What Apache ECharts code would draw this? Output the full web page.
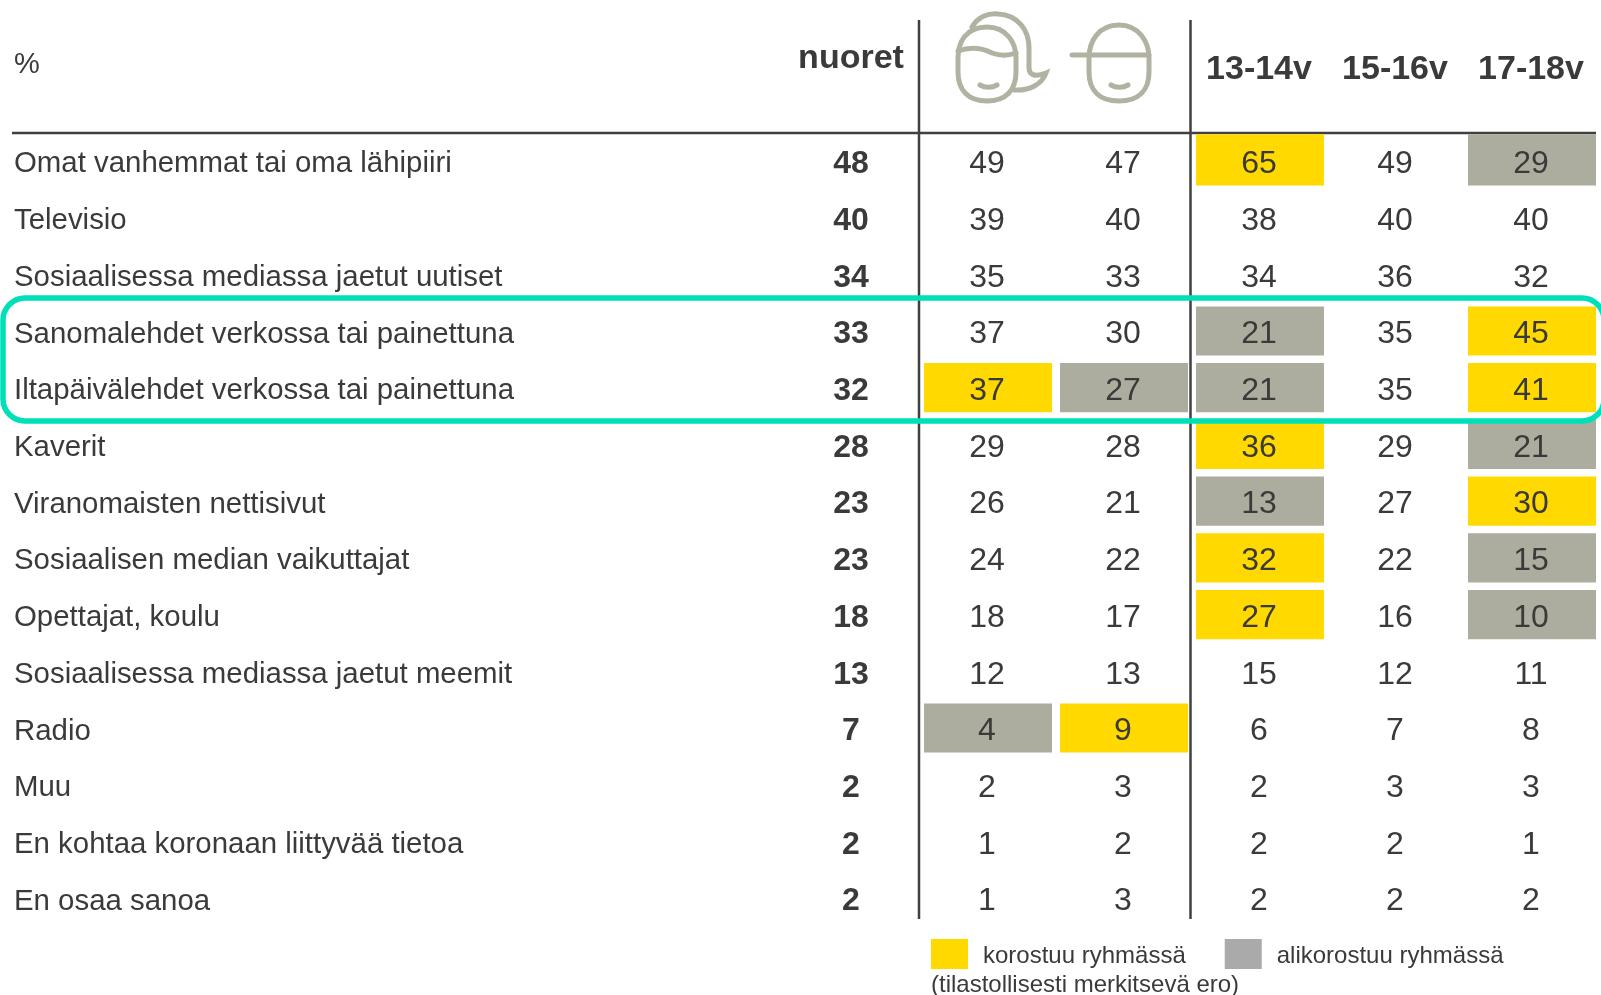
<!DOCTYPE html>
<html>
<head>
<meta charset="utf-8">
<style>
html,body{margin:0;padding:0;background:#fff}
#chart1{width:1601px;height:995px}
</style>
<script src="https://cdn.jsdelivr.net/npm/echarts@6/dist/echarts.min.js"></script>
</head>
<body>
<div id="chart1"></div>
<script>
const columns = ["nuoret", "", "", "13-14v", "15-16v", "17-18v"];
const rows = [
  "Omat vanhemmat tai oma lähipiiri", "Televisio", "Sosiaalisessa mediassa jaetut uutiset",
  "Sanomalehdet verkossa tai painettuna", "Iltapäivälehdet verkossa tai painettuna", "Kaverit",
  "Viranomaisten nettisivut", "Sosiaalisen median vaikuttajat", "Opettajat, koulu",
  "Sosiaalisessa mediassa jaetut meemit", "Radio", "Muu",
  "En kohtaa koronaan liittyvää tietoa", "En osaa sanoa"
];
const nuoret = [48, 40, 34, 33, 32, 28, 23, 23, 18, 13, 7, 2, 2, 2];
const tytot = [49, 39, 35, 37, 37, 29, 26, 24, 18, 12, 4, 2, 1, 1];
const pojat = [47, 40, 33, 30, 27, 28, 21, 22, 17, 13, 9, 3, 2, 3];
const age1314 = [65, 38, 34, 21, 21, 36, 13, 32, 27, 15, 6, 2, 2, 2];
const age1516 = [49, 40, 36, 35, 35, 29, 27, 22, 16, 12, 7, 3, 2, 2];
const age1718 = [29, 40, 32, 45, 41, 21, 30, 15, 10, 11, 8, 3, 1, 2];

// [column, row] of the highlighted cells
const korostuu = [[3,0],[5,3],[1,4],[5,4],[3,5],[5,6],[3,7],[3,8],[2,10]];
const alikorostuu = [[5,0],[3,3],[2,4],[3,4],[5,5],[3,6],[5,7],[5,8],[1,10]];

const textColor = "#3a3a3a";
const fontFamily = "'Liberation Sans', Arial, sans-serif";
const iconColor = "#b2b2a3";

// girl and boy heads in the header
const iconPaths = [
  "M987 27 C966 27 958 42 958 58 L958 72 C958 90 968 101 987 101 C1006 101 1016 90 1016 72 L1016 58 C1016 42 1006 27 987 27 Z",
  "M958 51 C972 46 982 48 992 53 C1000 56 1008 56 1016 53",
  "M972 27 C978 17 988 13 998 14 C1018 15 1029 30 1029 48 L1029 68 C1029 74 1034 78 1046 73 C1042 84 1030 91 1014 90",
  "M980 85 C985 88 992 88 997 85",
  "M1119 25 C1098 25 1089 42 1089 58 L1089 72 C1089 90 1099 101 1119 101 C1139 101 1149 90 1149 72 L1149 58 C1149 42 1139 25 1119 25 Z",
  "M1072 55 L1149 55",
  "M1111 85 C1116 88 1123 88 1128 85"
];

const cellData = [];
[nuoret, tytot, pojat, age1314, age1516, age1718].forEach((col, c) => {
  col.forEach((v, r) => cellData.push([c, r, v]));
});

const renderCell = (params, api) => {
  const pos = api.coord([api.value(0), api.value(1)]);
  const size = api.size([1, 1]);
  const w = size[0] - 8;
  const h = size[1] - 7.5;
  // top row runs up under the header line
  const extra = api.value(1) === 0 ? 2 : 0;
  return {
    type: "rect",
    shape: { x: pos[0] - w / 2 + 1, y: pos[1] - h / 2 - 0.5 - extra, width: w, height: h + extra },
    style: { fill: api.visual("color") }
  };
};

const renderValue = (params, api) => {
  const pos = api.coord([api.value(0), api.value(1)]);
  return {
    type: "text",
    x: pos[0],
    y: pos[1] + 3,
    style: {
      text: String(api.value(2)),
      x: 0, y: 0,
      align: "center",
      verticalAlign: "middle",
      fill: textColor,
      font: (api.value(0) === 0 ? "bold " : "") + "32px " + fontFamily
    }
  };
};

const renderIcons = () => ({
  type: "group",
  children: iconPaths.map((p) => ({
    type: "path",
    shape: { pathData: p },
    style: { stroke: iconColor, lineWidth: 5, fill: "none", lineCap: "round" }
  }))
});

const line = (x1, y1, x2, y2) => ({
  type: "line",
  shape: { x1, y1, x2, y2 },
  style: { stroke: "#404040", lineWidth: 2.5 },
  silent: true
});

const option = {
  animation: false,
  backgroundColor: "#fff",
  textStyle: { fontFamily },
  grid: { left: 783, right: 2, top: 133, height: 794, containLabel: false },
  legend: {
    left: 931, top: 939,
    padding: 0,
    itemWidth: 37, itemHeight: 30, itemGap: 39,
    selectedMode: false,
    icon: "rect",
    formatter: "{t|{name}}",
    textStyle: {
      rich: { t: { color: textColor, fontSize: 24, fontFamily, padding: [4, 0, 0, 10] } }
    },
    data: [
      { name: "korostuu ryhmässä", itemStyle: { color: "#ffd900" } },
      { name: "alikorostuu ryhmässä", itemStyle: { color: "#aaaaaa" } }
    ]
  },
  xAxis: {
    type: "category",
    position: "top",
    data: columns,
    axisLine: { show: false },
    axisTick: { show: false },
    axisLabel: {
      interval: 0,
      margin: 46,
      formatter: (v) => v === "nuoret" ? "{n|" + v + "}" : v,
      color: textColor,
      fontSize: 34,
      fontWeight: "bold",
      rich: { n: { fontSize: 34, fontWeight: "bold", color: textColor, padding: [0, 0, 11, 0] } }
    }
  },
  yAxis: {
    type: "category",
    inverse: true,
    data: rows,
    axisLine: { show: false },
    axisTick: { show: false },
    axisLabel: {
      interval: 0,
      margin: 769,
      align: "left",
      formatter: (v) => "{l|" + v + "}",
      rich: { l: { color: textColor, fontSize: 29.4, fontFamily, padding: [6, 0, 0, 0] } }
    }
  },
  series: [
    {
      name: "korostuu ryhmässä",
      type: "custom",
      coordinateSystem: "cartesian2d",
      renderItem: renderCell,
      itemStyle: { color: "#ffd900" },
      data: korostuu,
      z: 1
    },
    {
      name: "alikorostuu ryhmässä",
      type: "custom",
      coordinateSystem: "cartesian2d",
      renderItem: renderCell,
      itemStyle: { color: "#adad9f" },
      data: alikorostuu,
      z: 1
    },
    {
      name: "arvot",
      type: "custom",
      coordinateSystem: "cartesian2d",
      renderItem: renderValue,
      data: cellData,
      z: 3
    },
    {
      name: "kuvakkeet",
      type: "custom",
      coordinateSystem: "none",
      renderItem: renderIcons,
      data: [0],
      silent: true,
      z: 3
    }
  ],
  graphic: [
    line(12, 133, 1596, 133),
    line(919, 20, 919, 919),
    line(1190.5, 20, 1190.5, 919),
    {
      type: "rect",
      shape: { x: 3, y: 298, width: 1601, height: 123, r: 22 },
      style: { stroke: "#00e0b8", lineWidth: 5.5, fill: "none" },
      z: 2,
      silent: true
    },
    {
      type: "text", left: 14, top: 50,
      style: { text: "%", fill: textColor, font: "29px " + fontFamily }
    },
    {
      type: "text", left: 931, top: 973,
      style: { text: "(tilastollisesti merkitsevä ero)", fill: textColor, font: "24px " + fontFamily }
    }
  ]
};

const chart1 = echarts.init(document.getElementById("chart1"));
chart1.setOption(option);

window.addEventListener("resize", function () {
  chart1.resize();
});
</script>
</body>
</html>
